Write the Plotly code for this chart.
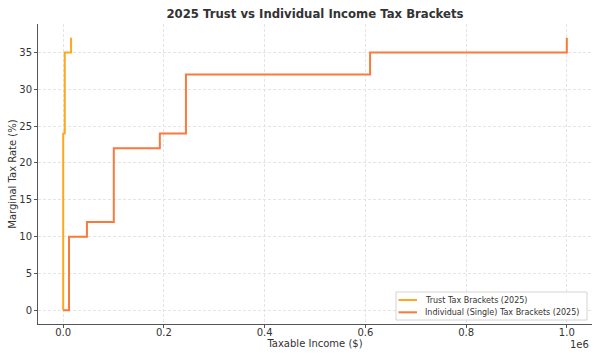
import plotly.graph_objects as go

# Data
trust_income = [0, 0, 3150, 15650]
trust_rate = [0, 24, 35, 37]
indiv_income = [0, 11600, 47150, 100525, 191950, 243725, 609350, 1000000]
indiv_rate = [0, 10, 12, 22, 24, 32, 35, 37]
x_tickvals = [0, 200000, 400000, 600000, 800000, 1000000]
x_ticktext = ["0.0", "0.2", "0.4", "0.6", "0.8", "1.0"]
y_tickvals = [0, 5, 10, 15, 20, 25, 30, 35]
series_names = ["Trust Tax Brackets (2025)", "Individual (Single) Tax Brackets (2025)"]
series_colors = ["#FFA81E", "#F97A3C"]

font_family = "DejaVu Sans"
text_color = "#333333"

W, H = 600, 360
ML, MR, MT, MB = 38, 8, 24, 36
PW, PH = W - ML - MR, H - MT - MB


def px_x(p):
    return (p - ML) / PW


def px_y(p):
    return (H - MB - p) / PH


fig = go.Figure()
fig.add_trace(go.Scatter(
    x=trust_income, y=trust_rate, mode="lines", line_shape="hv",
    line=dict(color=series_colors[0], width=2), name=series_names[0]))
fig.add_trace(go.Scatter(
    x=indiv_income, y=indiv_rate, mode="lines", line_shape="hv",
    line=dict(color=series_colors[1], width=2), name=series_names[1]))

fig.update_layout(
    width=W, height=H,
    margin=dict(l=ML, r=MR, t=MT, b=MB, autoexpand=False),
    paper_bgcolor="white", plot_bgcolor="white",
    font=dict(family=font_family, color=text_color, size=10),
    title=dict(text="<b>2025 Trust vs Individual Income Tax Brackets</b>",
               x=0.5, xref="paper", xanchor="center", y=1 - 14 / H, yanchor="middle",
               font=dict(size=11.7, color=text_color)),
    showlegend=False,
)
fig.update_xaxes(
    range=[-50000, 1050000], tickvals=x_tickvals, ticktext=x_ticktext,
    showline=True, linecolor="#555555", linewidth=1,
    ticks="outside", ticklen=3, tickcolor="#555555",
    showgrid=True, gridcolor="#e4e4e4", griddash="3px,2px", gridwidth=1,
    zeroline=False, tickfont=dict(size=10, color=text_color), automargin=False,
    ticklabelstandoff=-4,
    title=dict(text="Taxable Income ($)", font=dict(size=10, color=text_color), standoff=0),
)
fig.update_yaxes(
    range=[-1.85, 38.85], tickvals=y_tickvals,
    showline=True, linecolor="#555555", linewidth=1,
    ticks="outside", ticklen=3, tickcolor="#555555",
    showgrid=True, gridcolor="#e4e4e4", griddash="3px,2px", gridwidth=1,
    zeroline=False, tickfont=dict(size=10, color=text_color), automargin=False,
    title=dict(text="Marginal Tax Rate (%)", font=dict(size=10, color=text_color), standoff=0),
)
fig.add_annotation(text="1e6", xref="paper", yref="paper", x=px_x(591), y=px_y(344),
                   xanchor="right", yanchor="middle", showarrow=False,
                   font=dict(size=10, color=text_color))

# custom legend (matplotlib-like compact box)
fig.add_shape(type="rect", xref="paper", yref="paper",
              x0=px_x(396), x1=px_x(587), y0=px_y(320), y1=px_y(292),
              line=dict(color="#d4d4d4", width=1), fillcolor="rgba(255,255,255,0.85)")
for i, (name, col) in enumerate(zip(series_names, series_colors)):
    yy = 300 + i * 12.3
    fig.add_shape(type="line", xref="paper", yref="paper",
                  x0=px_x(398.5), x1=px_x(417), y0=px_y(yy), y1=px_y(yy),
                  line=dict(color=col, width=2))
    fig.add_annotation(text=name, xref="paper", yref="paper", x=px_x(423), y=px_y(yy),
                       xanchor="left", yanchor="middle", showarrow=False,
                       font=dict(size=8, color=text_color))

fig.write_html("out.html", config={"displayModeBar": False},
               post_script="document.body.style.margin='0';")
